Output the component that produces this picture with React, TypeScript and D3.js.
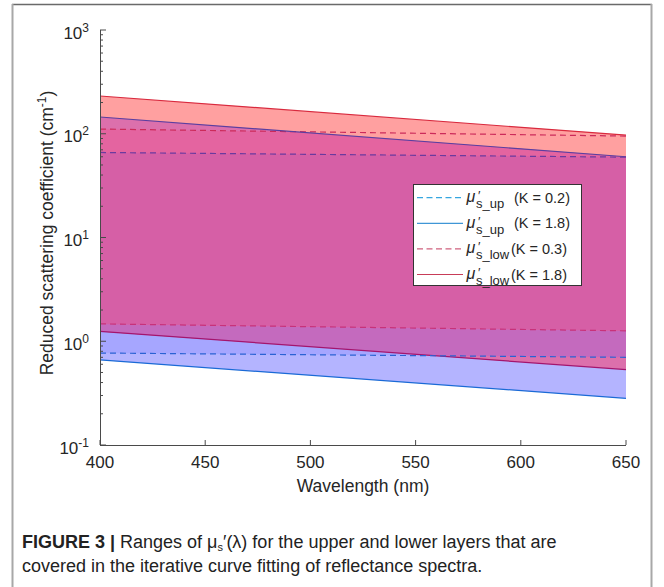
import React from 'react';
import * as d3 from 'd3';

// wavelength samples (nm) at the ends of the plotted range
const waves = [400, 650];

// upper-layer reduced scattering coefficient bounds (cm^-1)
const upK02Max = [66, 59.5];
const upK02Min = [0.77, 0.7];
const upK18Max = [145, 60];
const upK18Min = [0.66, 0.282];

// lower-layer bounds (cm^-1)
const lowK03Max = [111, 95];
const lowK03Min = [1.47, 1.26];
const lowK18Max = [231, 97];
const lowK18Min = [1.245, 0.533];

const xTicks = [400, 450, 500, 550, 600, 650];
const yExps = [-1, 0, 1, 2, 3];

const legendSubs = ['s_up', 's_up', 's_low', 's_low'];
const legendLabels = ['(K = 0.2)', '(K = 1.8)', '(K = 0.3)', '(K = 1.8)'];

const W = 664;
const H = 587;
const font = 'Arial, "Liberation Sans", Helvetica, sans-serif';

type Pt = { w: number; lo: number; hi: number };

const band = (lo: number[], hi: number[]): Pt[] =>
  waves.map((w, i) => ({ w, lo: lo[i], hi: hi[i] }));

const App: React.FC = () => {
  const x = d3.scaleLinear().domain([400, 650]).range([100, 626]);
  const y = d3.scaleLog().domain([0.1, 1000]).range([445, 30]);

  const area = d3
    .area<Pt>()
    .x((d) => x(d.w))
    .y0((d) => y(d.lo))
    .y1((d) => y(d.hi));

  const line = d3
    .line<number>()
    .x((_, i) => x(waves[i]))
    .y((d) => y(d));

  const pR18 = area(band(lowK18Min, lowK18Max)) || '';
  const pR03 = area(band(lowK03Min, lowK03Max)) || '';
  const pB18 = area(band(upK18Min, upK18Max)) || '';
  const pB02 = area(band(upK02Min, upK02Max)) || '';

  // overlapping regions painted one by one
  const regions = [
    { d: pB18, clip: '', color: 'rgb(180,180,255)' },
    { d: pB02, clip: '', color: 'rgb(166,166,255)' },
    { d: pR18, clip: '', color: 'rgb(255,160,160)' },
    { d: pB18, clip: 'cR18', color: 'rgb(220,112,172)' },
    { d: pB02, clip: 'cR18', color: 'rgb(196,106,190)' },
    { d: pR03, clip: 'cB18', color: 'rgb(228,100,160)' },
    { d: pR03, clip: 'cB02', color: 'rgb(214,95,166)' },
  ];

  const lines = [
    { v: lowK18Max, color: '#d92a3e', dash: '' },
    { v: lowK03Max, color: '#cc2a5a', dash: '6,4' },
    { v: upK18Max, color: '#5b3fa0', dash: '' },
    { v: upK02Max, color: '#6b3a9e', dash: '6,4' },
    { v: lowK03Min, color: '#c8327a', dash: '6,4' },
    { v: lowK18Min, color: '#a3156e', dash: '' },
    { v: upK02Min, color: '#2a62d4', dash: '6,4' },
    { v: upK18Min, color: '#1a6ad6', dash: '' },
  ];

  const legendLines = [
    { color: '#35a6e0', dash: '6,3.5' },
    { color: '#3f96d6', dash: '' },
    { color: '#d0607e', dash: '6,3.5' },
    { color: '#c83c58', dash: '' },
  ];

  const minor: number[] = [];
  for (let k = -1; k <= 2; k++) {
    for (let m = 2; m <= 9; m++) minor.push(m * Math.pow(10, k));
  }

  const axisColor = '#4a4a4a';
  const lx = 413.5;
  const ly = 184.5;

  return (
    <svg width={W} height={H} style={{ position: 'absolute', left: 0, top: 0, background: '#fff' }} fontFamily={font}>
      <defs>
        <clipPath id="cR18"><path d={pR18} /></clipPath>
        <clipPath id="cB18"><path d={pB18} /></clipPath>
        <clipPath id="cB02"><path d={pB02} /></clipPath>
      </defs>
      {/* frame */}
      <line x1={12} y1={4.5} x2={652} y2={4.5} stroke="#6a6a6a" strokeWidth={1.5} />
      <line x1={12.5} y1={4} x2={12.5} y2={H} stroke="#a8a8a8" strokeWidth={2} />
      <line x1={651.5} y1={4} x2={651.5} y2={H} stroke="#a8a8a8" strokeWidth={2} />

      {regions.map((r, i) => (
        <path
          key={i}
          d={r.d}
          fill={r.color}
          stroke="none"
          clipPath={r.clip ? `url(#${r.clip})` : undefined}
        />
      ))}
      {lines.map((l, i) => (
        <path
          key={i}
          d={line(l.v) || ''}
          fill="none"
          stroke={l.color}
          strokeWidth={1.2}
          strokeDasharray={l.dash || undefined}
        />
      ))}

      {/* axes */}
      <line x1={100.5} y1={30} x2={100.5} y2={445.5} stroke={axisColor} />
      <line x1={100} y1={445.5} x2={626} y2={445.5} stroke={axisColor} />
      {xTicks.map((t) => (
        <g key={t}>
          <line x1={x(t)} x2={x(t)} y1={445} y2={440} stroke={axisColor} />
          <text x={x(t)} y={468} textAnchor="middle" fontSize={17} fill="#262626">
            {t}
          </text>
        </g>
      ))}
      {minor.map((v) => (
        <line key={v} x1={100} x2={103} y1={y(v)} y2={y(v)} stroke={axisColor} />
      ))}
      {yExps.map((e) => (
        <g key={e}>
          <line x1={100} x2={106} y1={y(Math.pow(10, e))} y2={y(Math.pow(10, e))} stroke={axisColor} />
          <text x={89} y={y(Math.pow(10, e)) + 8.5} textAnchor="end" fontSize={17} fill="#262626">
            10
            <tspan dy={-7} fontSize={12}>
              {e}
            </tspan>
          </text>
        </g>
      ))}

      <text x={363} y={492} textAnchor="middle" fontSize={17.5} fill="#262626">
        Wavelength (nm)
      </text>
      <text transform="translate(53,233) rotate(-90)" textAnchor="middle" fontSize={17.5} fill="#262626">
        Reduced scattering coefficient (cm
        <tspan dy={-7} fontSize={12}>
          -1
        </tspan>
        <tspan dy={7}>)</tspan>
      </text>

      {/* legend */}
      <rect x={lx} y={ly} width={168} height={101} fill="#fff" stroke="#333" strokeWidth={1} />
      {legendLabels.map((lab, i) => {
        const ry = 197.7 + i * 25.6;
        return (
          <g key={i}>
            <line
              x1={417}
              x2={463}
              y1={ry}
              y2={ry}
              stroke={legendLines[i].color}
              strokeWidth={1.2}
              strokeDasharray={legendLines[i].dash || undefined}
            />
            <text x={466.5} y={ry + 4.5} fontSize={16} fontStyle="italic" fill="#262626">
              μ
            </text>
            <text x={478} y={ry + 2.5} fontSize={13} fill="#262626">
              ′
            </text>
            <text x={476} y={ry + 10.5} fontSize={13} fill="#262626">
              {legendSubs[i]}
            </text>
            <text x={i < 2 ? 514 : 511} y={ry + 5} fontSize={14.5} fill="#262626">
              {lab}
            </text>
          </g>
        );
      })}

      {/* caption */}
      <text x={22} y={548} fontSize={18} fill="#222">
        <tspan fontWeight="bold">FIGURE 3 |</tspan> Ranges of μ
        <tspan fontSize={11} dy={3}>
          s
        </tspan>
        <tspan dy={-3}>′(λ) for the upper and lower layers that are</tspan>
      </text>
      <text x={22} y={572} fontSize={18} fill="#222">
        covered in the iterative curve fitting of reflectance spectra.
      </text>
    </svg>
  );
};

export default App;
